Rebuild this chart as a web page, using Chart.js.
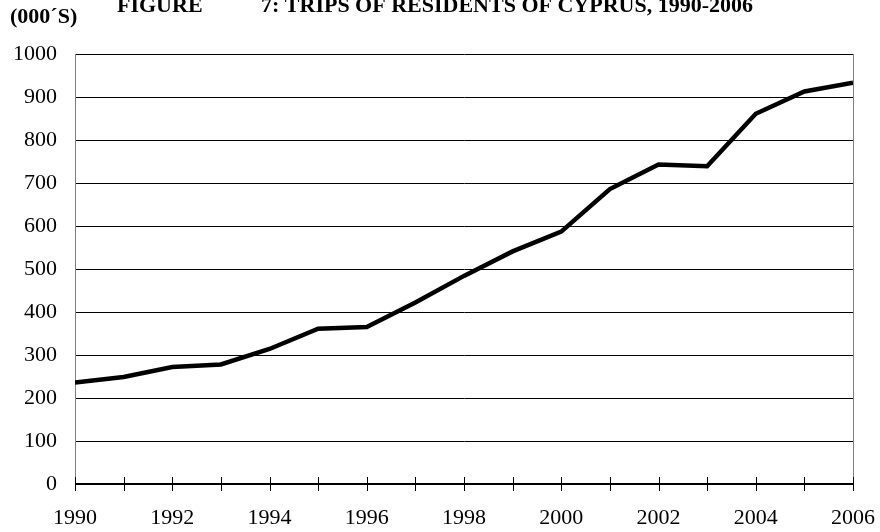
<!DOCTYPE html>
<html><head><meta charset="utf-8">
<script src="https://cdn.jsdelivr.net/npm/chart.js@4/dist/chart.umd.min.js"></script>
<style>html,body{margin:0;padding:0;background:#fff}#wrap{width:880px;height:532px}</style>
</head><body><div id="wrap"><canvas id="c" width="880" height="532"></canvas></div>
<script>
const years = [1990,1991,1992,1993,1994,1995,1996,1997,1998,1999,2000,2001,2002,2003,2004,2005,2006];
const trips = [236,249,272,278,314,361,365,422,484,541,587,686,743,739,861,913,933];
const titleLabel = "FIGURE";
const titleText = "7: TRIPS OF RESIDENTS OF CYPRUS, 1990-2006";
const unitText = "(000\u00B4S)";

const serif = "'Liberation Serif','Times New Roman',serif";

const extras = {
  id: 'extras',
  afterDraw(chart) {
    const ctx = chart.ctx, a = chart.chartArea, xs = chart.scales.x, ys = chart.scales.y;
    ctx.save();
    // right border
    ctx.strokeStyle = '#808080'; ctx.lineWidth = 1;
    ctx.beginPath(); ctx.moveTo(a.right + 0.5, a.top); ctx.lineTo(a.right + 0.5, a.bottom); ctx.stroke();
    // zero axis
    const y0 = ys.getPixelForValue(0);
    ctx.strokeStyle = '#000'; ctx.lineWidth = 2;
    ctx.beginPath(); ctx.moveTo(a.left, y0); ctx.lineTo(a.right, y0); ctx.stroke();
    // tick marks crossing axis
    ctx.lineWidth = 1; ctx.strokeStyle = '#000';
    years.forEach(yr => {
      const x = Math.round(xs.getPixelForValue(yr)) + 0.5;
      ctx.beginPath(); ctx.moveTo(x, y0 - 7); ctx.lineTo(x, y0 + 7); ctx.stroke();
    });
    // texts
    ctx.fillStyle = '#000';
    ctx.textBaseline = 'alphabetic';
    ctx.textAlign = 'left';
    ctx.font = "bold 22px " + serif;
    ctx.fillText(titleLabel, 117, 12);
    ctx.fillText(titleText, 261, 12);
    ctx.fillText(unitText, 10, 23);
    ctx.restore();
  }
};

new Chart(document.getElementById('c'), {
  type: 'line',
  data: {
    datasets: [{
      data: years.map((y, i) => ({x: y, y: trips[i]})),
      borderColor: '#000',
      borderWidth: 4.5,
      pointRadius: 0,
      tension: 0,
      borderJoinStyle: 'miter',
      fill: false
    }]
  },
  options: {
    responsive: false,
    animation: false,
    events: [],
    layout: { padding: { top: 54, right: 27, left: 0, bottom: 0 } },
    plugins: { legend: { display: false }, title: { display: false }, tooltip: { enabled: false } },
    scales: {
      x: {
        type: 'linear', min: 1990, max: 2006,
        afterFit(s) { s.height = 48; s.paddingLeft = 0; s.paddingRight = 0; },
        grid: { display: false, drawTicks: false },
        border: { display: false },
        ticks: {
          stepSize: 2, padding: 21, color: '#000',
          font: { family: serif, size: 22 },
          maxRotation: 0, autoSkip: false,
          callback: v => String(v)
        }
      },
      y: {
        min: 0, max: 1000,
        afterFit(s) { s.width = 75; s.paddingTop = 0; s.paddingBottom = 0; },
        grid: { color: '#000', lineWidth: 1, drawTicks: false },
        border: { display: true, color: '#808080', width: 1 },
        ticks: {
          stepSize: 100, padding: 18, color: '#000',
          font: { family: serif, size: 22 },
          callback: v => String(v)
        }
      }
    }
  },
  plugins: [extras]
});
</script>
</body></html>
